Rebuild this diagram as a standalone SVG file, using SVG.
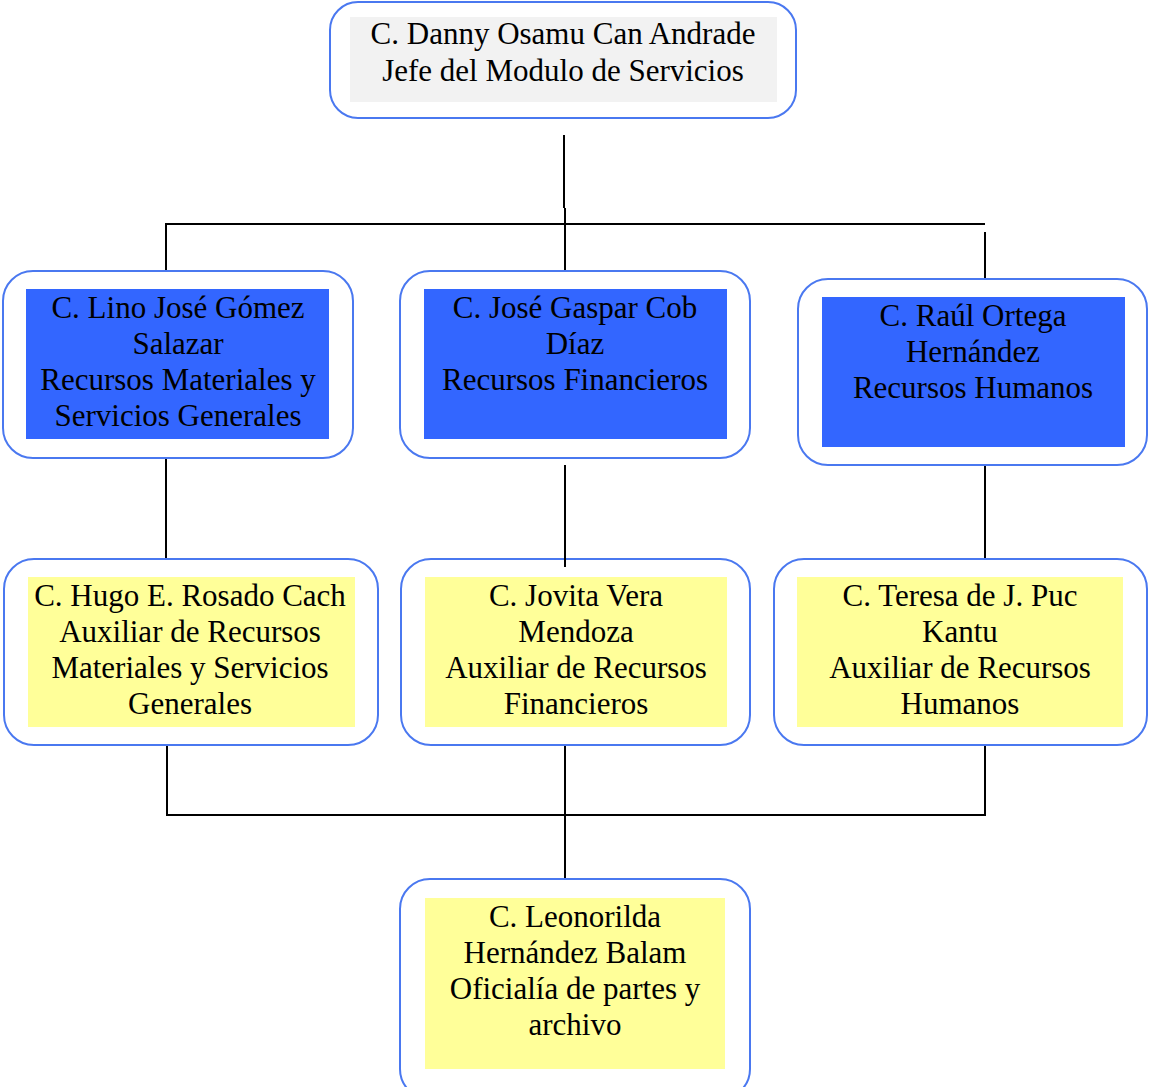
<svg xmlns="http://www.w3.org/2000/svg" width="1149" height="1087" viewBox="0 0 1149 1087">
<style>
.outer{fill:#ffffff;stroke:#4a78f0;stroke-width:2}
.gray{fill:#f2f2f2}
.blue{fill:#3366ff}
.yellow{fill:#ffff99}
text{font-family:"Liberation Serif","Times New Roman",serif;font-size:31px;fill:#000;text-anchor:middle}
.conn line{stroke:#000;stroke-width:2}
</style>
<rect width="1149" height="1087" fill="#ffffff"/>
<g id="n-top">
<rect class="outer" x="330" y="2" width="466" height="116" rx="28"/>
<rect class="gray" x="350" y="17" width="427" height="85"/>
<text x="563" y="44">C. Danny Osamu Can Andrade</text>
<text x="563" y="81">Jefe del Modulo de Servicios</text>
</g>
<g id="n-rm">
<rect class="outer" x="3" y="271" width="350" height="187" rx="30"/>
<rect class="blue" x="26" y="289" width="303" height="150"/>
<text x="178" y="318">C. Lino José Gómez</text>
<text x="178" y="354">Salazar</text>
<text x="178" y="390">Recursos Materiales y</text>
<text x="178" y="426">Servicios Generales</text>
</g>
<g id="n-rf">
<rect class="outer" x="400" y="271" width="350" height="187" rx="30"/>
<rect class="blue" x="424" y="289" width="303" height="150"/>
<text x="575" y="318">C. José Gaspar Cob</text>
<text x="575" y="354">Díaz</text>
<text x="575" y="390">Recursos Financieros</text>
</g>
<g id="n-rh">
<rect class="outer" x="798" y="279" width="349" height="186" rx="30"/>
<rect class="blue" x="822" y="297" width="303" height="150"/>
<text x="973" y="326">C. Raúl Ortega</text>
<text x="973" y="362">Hernández</text>
<text x="973" y="398">Recursos Humanos</text>
</g>
<g id="n-arm">
<rect class="outer" x="4" y="559" width="374" height="186" rx="30"/>
<rect class="yellow" x="28" y="577" width="327" height="150"/>
<text x="190" y="606">C. Hugo E. Rosado Cach</text>
<text x="190" y="642">Auxiliar de Recursos</text>
<text x="190" y="678">Materiales y Servicios</text>
<text x="190" y="714">Generales</text>
</g>
<g id="n-arf">
<rect class="outer" x="401" y="559" width="349" height="186" rx="30"/>
<rect class="yellow" x="425" y="577" width="302" height="150"/>
<text x="576" y="606">C. Jovita Vera</text>
<text x="576" y="642">Mendoza</text>
<text x="576" y="678">Auxiliar de Recursos</text>
<text x="576" y="714">Financieros</text>
</g>
<g id="n-arh">
<rect class="outer" x="774" y="559" width="373" height="186" rx="30"/>
<rect class="yellow" x="797" y="577" width="326" height="150"/>
<text x="960" y="606">C. Teresa de J. Puc</text>
<text x="960" y="642">Kantu</text>
<text x="960" y="678">Auxiliar de Recursos</text>
<text x="960" y="714">Humanos</text>
</g>
<g id="n-op">
<rect class="outer" x="400" y="879" width="350" height="220" rx="30"/>
<rect class="yellow" x="425" y="898" width="300" height="171"/>
<text x="575" y="927">C. Leonorilda</text>
<text x="575" y="963">Hernández Balam</text>
<text x="575" y="999">Oficialía de partes y</text>
<text x="575" y="1035">archivo</text>
</g>
<g class="conn" id="connectors">
<line x1="564" y1="135" x2="564" y2="208"/>
<line x1="565" y1="208" x2="565" y2="270"/>
<line x1="165" y1="224" x2="985" y2="224"/>
<line x1="166" y1="223" x2="166" y2="270"/>
<line x1="985" y1="232" x2="985" y2="278"/>
<line x1="166" y1="459" x2="166" y2="558"/>
<line x1="565" y1="465" x2="565" y2="567"/>
<line x1="985" y1="466" x2="985" y2="558"/>
<line x1="167" y1="746" x2="167" y2="816"/>
<line x1="985" y1="746" x2="985" y2="816"/>
<line x1="166" y1="815" x2="986" y2="815"/>
<line x1="565" y1="746" x2="565" y2="878"/>
</g>
</svg>
